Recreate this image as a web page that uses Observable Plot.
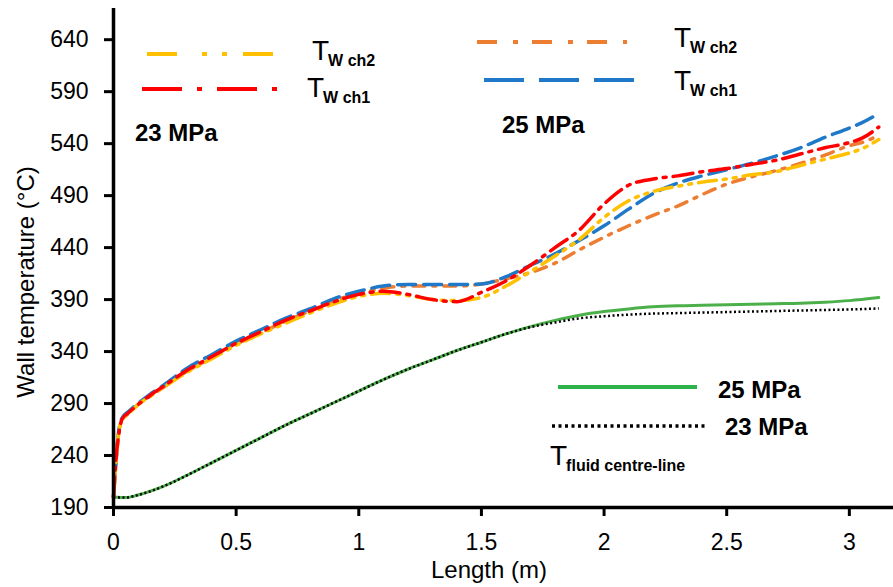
<!DOCTYPE html>
<html>
<head>
<meta charset="utf-8">
<script src="https://cdn.jsdelivr.net/npm/d3@7"></script>
<script src="https://cdn.jsdelivr.net/npm/@observablehq/plot@0.6"></script>
<style>
  html, body { margin: 0; padding: 0; background: white; }
  #chart svg { display: block; }
</style>
</head>
<body>
<div id="chart"></div>
<script>
// ---- Data ----
const xWall = [0, 0.01, 0.02, 0.035, 0.06, 0.1, 0.15, 0.2, 0.3, 0.4, 0.5, 0.6, 0.7, 0.8, 0.9, 1.0, 1.1, 1.2, 1.3, 1.4, 1.5, 1.6, 1.7, 1.8, 1.9, 2.0, 2.1, 2.2, 2.3, 2.4, 2.5, 2.6, 2.7, 2.8, 2.9, 3.0, 3.05, 3.12];
// 23 MPa, T_W ch1 (red)
const tw23ch1 = [200, 236, 258, 275, 281, 289, 298, 306, 322, 335, 348, 359, 370, 379, 388, 395, 398, 395, 390, 388, 397, 408, 423, 440, 457, 482, 500, 506, 509, 513, 516, 520, 524, 530, 536, 541, 545, 556];
// 23 MPa, T_W ch2 (yellow)
const tw23ch2 = [200, 232, 260, 274, 280, 289, 297, 305, 320, 333, 346, 357, 367, 377, 386, 393, 396, 394, 390, 389, 392, 403, 417, 432, 448, 469, 485, 494, 499, 503, 506, 510, 513, 519, 525, 531, 535, 544];
// 25 MPa, T_W ch1 (blue)
const tw25ch1 = [200, 234, 261, 276, 282, 290, 299, 307, 324, 337, 350, 361, 372, 381, 391, 398, 403, 404.5, 404.5, 404.5, 405, 412, 423, 434, 447, 461, 477, 492, 502, 509, 515, 521, 528, 536, 546, 555, 560, 569];
// 25 MPa, T_W ch2 (orange)
const tw25ch2 = [200, 233, 259, 274, 280, 289, 297, 305, 321, 334, 347, 358, 369, 379, 389, 396, 401, 403, 403, 403, 405, 410, 416, 425, 438, 450, 461, 471, 480, 491, 501, 508, 514, 521, 529, 538, 541, 548];

const xFluid = [0, 0.05, 0.1, 0.2, 0.3, 0.4, 0.5, 0.6, 0.7, 0.8, 0.9, 1.0, 1.1, 1.2, 1.3, 1.4, 1.5, 1.6, 1.7, 1.8, 1.9, 2.0, 2.1, 2.2, 2.3, 2.4, 2.5, 2.6, 2.7, 2.8, 2.9, 3.0, 3.12];
// T fluid centre-line, 25 MPa (green)
const tf25 = [200, 199.5, 202, 210, 221, 233, 245, 257, 269, 280, 291, 302, 313, 323, 332, 341, 349, 357, 364, 370, 375, 378.5, 381, 383, 384, 384.5, 385, 385.5, 386, 386.5, 387.5, 389, 392];
// T fluid centre-line, 23 MPa (black dotted)
const tf23 = [200, 199.5, 202, 210, 221, 233, 245, 257, 269, 280, 291, 302, 313, 323, 332, 341, 349, 357, 363.5, 368, 372, 374, 375.5, 376.5, 377, 377.5, 378, 378.5, 379, 379.5, 380, 380.5, 381.5];

const xTicks = [0, 0.5, 1, 1.5, 2, 2.5, 3];
const xTickLabels = ["0", "0.5", "1", "1.5", "2", "2.5", "3"];
const yTicks = [190, 240, 290, 340, 390, 440, 490, 540, 590, 640];
const yTickLabels = ["190", "240", "290", "340", "390", "440", "490", "540", "590", "640"];

const xLabel = "Length (m)";
const yLabel = "Wall temperature (°C)";

// ---- Build tables ----
const toRows = (xs, ys) => xs.map((x, i) => ({x, y: ys[i]}));
const red = toRows(xWall, tw23ch1);
const yellow = toRows(xWall, tw23ch2);
const blue = toRows(xWall, tw25ch1);
const orange = toRows(xWall, tw25ch2);
const green = toRows(xFluid, tf25);
const black = toRows(xFluid, tf23);

const C = {yellow: "#FFC000", red: "#FF0000", orange: "#ED7D31", blue: "#1F78C8", green: "#4CB04A", black: "#000000"};
const FONT = "'Liberation Sans', Arial, Helvetica, sans-serif";

const chart = Plot.plot({
  width: 893,
  height: 587,
  marginLeft: 113,
  marginRight: 0,
  marginTop: 8,
  marginBottom: 80,
  style: {fontFamily: FONT, fontSize: "23px", color: "black", background: "white"},
  x: {domain: [0, 3.18]},
  y: {domain: [190, 670]},
  marks: [
    Plot.line(green, {x: "x", y: "y", stroke: C.green, strokeWidth: 3, curve: "monotone-x"}),
    Plot.line(black, {x: "x", y: "y", stroke: C.black, strokeWidth: 2.5, strokeDasharray: "2,2.5", strokeLinecap: "butt", curve: "monotone-x"}),
    Plot.line(orange, {x: "x", y: "y", stroke: C.orange, strokeWidth: 3.5, strokeDasharray: "12,8,3,8", curve: "monotone-x"}),
    Plot.line(blue, {x: "x", y: "y", stroke: C.blue, strokeWidth: 3.5, strokeDasharray: "18,8", curve: "monotone-x"}),
    Plot.line(yellow, {x: "x", y: "y", stroke: C.yellow, strokeWidth: 3.5, strokeDasharray: "18,7,3,7,3,7", curve: "monotone-x"}),
    Plot.line(red, {x: "x", y: "y", stroke: C.red, strokeWidth: 3.5, strokeDasharray: "20,7,3,7", curve: "monotone-x"}),
    Plot.axisX({ticks: xTicks, tickFormat: (d, i) => xTickLabels[i], tickSize: 9, tickPadding: 17, strokeWidth: 3, label: null, fontSize: 23}),
    Plot.axisY({ticks: yTicks, tickFormat: (d, i) => yTickLabels[i], tickSize: 9, tickPadding: 16, strokeWidth: 3, label: null, fontSize: 23}),
    Plot.ruleX([0], {strokeWidth: 3.5}),
    Plot.ruleY([190], {strokeWidth: 3.5})
  ]
});

document.getElementById("chart").appendChild(chart);

// ---- Axis titles and in-plot legends ----
const svg = d3.select(chart);
svg.append("text")
  .attr("transform", "translate(34,282) rotate(-90)")
  .attr("text-anchor", "middle")
  .attr("font-family", FONT).attr("font-size", 24).attr("fill", "black")
  .text(yLabel);
svg.append("text")
  .attr("x", 489).attr("y", 578)
  .attr("text-anchor", "middle")
  .attr("font-family", FONT).attr("font-size", 24).attr("fill", "black")
  .text(xLabel);

const legendLines = [
  {x1: 147, x2: 283, y: 54, color: C.yellow, dash: "30,25,5,15,5,16", w: 4},
  {x1: 142, x2: 278, y: 89, color: C.red, dash: "40,15,5,15", w: 4},
  {x1: 477, x2: 627, y: 42, color: C.orange, dash: "20,16,5,14", w: 4},
  {x1: 484, x2: 635, y: 80, color: C.blue, dash: "40,15", w: 4},
  {x1: 558, x2: 697, y: 387, color: "#2DB34A", dash: null, w: 4},
  {x1: 552, x2: 705, y: 426, color: C.black, dash: "3,3.5", w: 3.5}
];
legendLines.forEach(d => {
  const l = svg.append("line")
    .attr("x1", d.x1).attr("x2", d.x2).attr("y1", d.y).attr("y2", d.y)
    .attr("stroke", d.color).attr("stroke-width", d.w);
  if (d.dash) l.attr("stroke-dasharray", d.dash);
});

const tLabels = [
  {x: 312, y: 60, sub: "W ch2"},
  {x: 307, y: 97, sub: "W ch1"},
  {x: 674, y: 47, sub: "W ch2"},
  {x: 674, y: 90, sub: "W ch1"},
  {x: 550, y: 465, sub: "fluid centre-line"}
];
tLabels.forEach(d => {
  const t = svg.append("text")
    .attr("x", d.x).attr("y", d.y)
    .attr("text-anchor", "start")
    .attr("font-family", FONT).attr("font-size", 28).attr("fill", "black");
  t.append("tspan").text("T");
  t.append("tspan").attr("dy", 6).attr("dx", -1)
    .attr("font-size", 16).attr("font-weight", "bold").text(d.sub);
});

const pLabels = [
  {x: 135, y: 141, text: "23 MPa"},
  {x: 502, y: 133, text: "25 MPa"},
  {x: 718, y: 398, text: "25 MPa"},
  {x: 725, y: 435, text: "23 MPa"}
];
pLabels.forEach(d => {
  svg.append("text")
    .attr("x", d.x).attr("y", d.y)
    .attr("text-anchor", "start")
    .attr("font-family", FONT).attr("font-size", 24).attr("font-weight", "bold").attr("fill", "black")
    .text(d.text);
});
</script>
</body>
</html>
